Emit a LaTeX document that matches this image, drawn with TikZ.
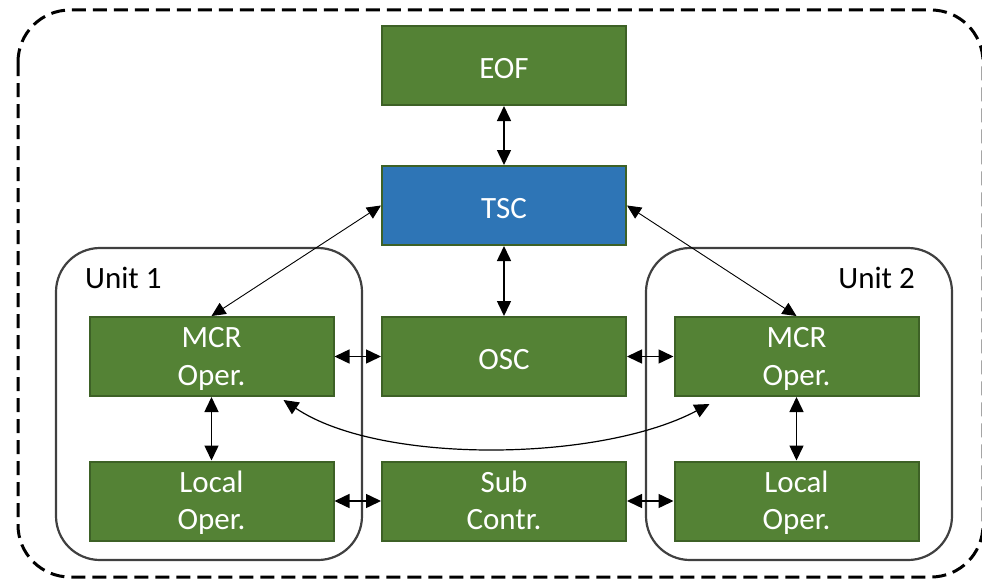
\documentclass[tikz,border=0pt]{standalone}
\usepackage{fontspec}
\setmainfont{Carlito}
\usetikzlibrary{arrows.meta}

\definecolor{boxgreen}{HTML}{548235}
\definecolor{boxedge}{HTML}{3D6126}
\definecolor{boxblue}{HTML}{2E75B6}
\definecolor{unitedge}{HTML}{404040}

% fixed ascent on the first line and descent on the last line of each block
\newcommand\onetopstrut{\rule{0pt}{33.5pt}}
\newcommand\twotopstrut{\rule{0pt}{27.5pt}}
\newcommand\botstrut{\rule[-7.5pt]{0pt}{7.5pt}}
\newcommand\oneline[1]{\onetopstrut#1\botstrut}
\newcommand\twoline[2]{\twotopstrut#1\\#2\botstrut}

\tikzset{
  block/.style={draw=boxedge, line width=2pt, fill=boxgreen, text=white,
    minimum width=244pt, minimum height=79pt, inner sep=0pt, align=center,
    font=\fontsize{31}{37.5}\selectfont},
  unitbox/.style={draw=unitedge, line width=2.2pt, rounded corners=44pt},
  unitlabel/.style={font=\fontsize{31}{37.5}\selectfont, inner sep=0pt},
  link/.style={line width=1.5pt, {Triangle[length=15pt,width=14pt]}-{Triangle[length=15pt,width=14pt]}},
  thinlink/.style={line width=0.9pt, {Triangle[length=14pt,width=13pt]}-{Triangle[length=14pt,width=13pt]}},
}

\begin{document}
\begin{tikzpicture}[x=1pt, y=-1pt]
  \useasboundingbox (0,0) rectangle (982,578);

  % outer system boundary
  \draw[line width=3pt, dash pattern=on 14pt off 7pt, rounded corners=52pt]
    (18,10) rectangle (983,577);

  % unit frames
  \draw[unitbox] (56,248) rectangle (362,560);
  \draw[unitbox] (646,248) rectangle (952,560);
  \node[unitlabel, anchor=base west] (u1) at (85,288) {Unit 1};
  \node[unitlabel, anchor=base east] (u2) at (915,288) {Unit 2};

  % blocks
  \node[block] (eof) at (504,65.5) {\oneline{EOF}};
  \node[block, fill=boxblue] (tsc) at (504,205.5) {\oneline{TSC}};
  \node[block] (osc) at (504,356.5) {\oneline{OSC}};
  \node[block] (sub) at (504,501) {\twoline{Sub}{Contr.}};
  \node[block] (mcr1) at (211.5,356.5) {\twoline{MCR}{Oper.}};
  \node[block] (loc1) at (211.5,501) {\twoline{Local}{Oper.}};
  \node[block] (mcr2) at (796.5,356.5) {\twoline{MCR}{Oper.}};
  \node[block] (loc2) at (796.5,501) {\twoline{Local}{Oper.}};

  % links
  \draw[link] (eof.south) -- (tsc.north);
  \draw[link] (tsc.south) -- (osc.north);
  \draw[link] (mcr1.east) -- (osc.west);
  \draw[link] (osc.east) -- (mcr2.west);
  \draw[link] (loc1.east) -- (sub.west);
  \draw[link] (sub.east) -- (loc2.west);
  \draw[link] (mcr1.south) -- (loc1.north);
  \draw[link] (mcr2.south) -- (loc2.north);
  \draw[thinlink] (tsc.west) -- (mcr1.north);
  \draw[thinlink] (tsc.east) -- (mcr2.north);
  \draw[link, line width=1.2pt]
    ([xshift=-51pt, yshift=-3pt]mcr1.south east)
    .. controls (380,465) and (600,462) ..
    ([xshift=36pt, yshift=-7pt]mcr2.south west);
\end{tikzpicture}
\end{document}
